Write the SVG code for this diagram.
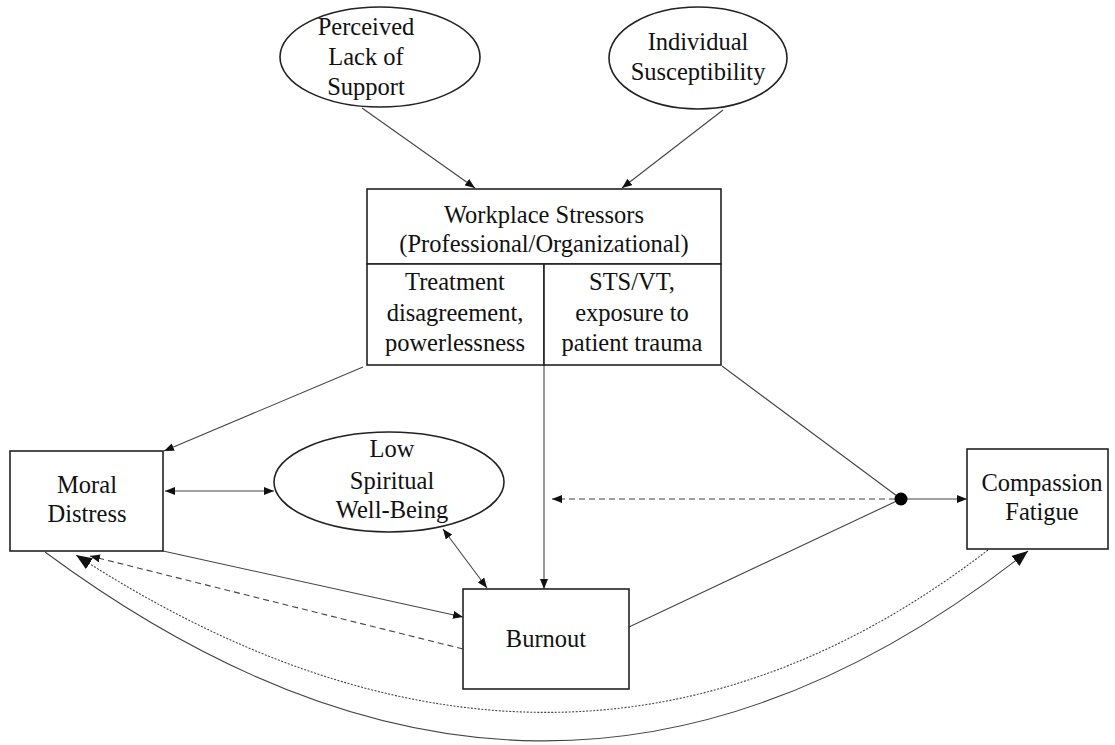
<svg xmlns="http://www.w3.org/2000/svg" width="1115" height="745" viewBox="0 0 1115 745">
<defs>
<style>
.box{fill:#fff;stroke:#222;stroke-width:1.6}
.ell{fill:#fff;stroke:#222;stroke-width:1.6}
text{font-family:"Liberation Serif","Times New Roman",serif;font-size:24.5px;fill:#111;text-anchor:middle}
.c{fill:none;stroke:#444;stroke-width:1.1}
.dash{stroke-dasharray:6,4}
.dot{stroke-dasharray:2,1.5}
</style>
<marker id="a" viewBox="0 0 10 8" refX="10" refY="4" markerWidth="10" markerHeight="8" markerUnits="userSpaceOnUse" orient="auto"><path d="M0,0 L10,4 L0,8 Z" fill="#111"/></marker>
<marker id="as" viewBox="0 0 10 8" refX="10" refY="4" markerWidth="10" markerHeight="8" markerUnits="userSpaceOnUse" orient="auto-start-reverse"><path d="M0,0 L10,4 L0,8 Z" fill="#111"/></marker>
<marker id="A" viewBox="0 0 10 8" refX="10" refY="4" markerWidth="16" markerHeight="13" markerUnits="userSpaceOnUse" orient="auto"><path d="M0,0 L10,4 L0,8 Z" fill="#111"/></marker>
</defs>
<rect width="1115" height="745" fill="#fff"/>

<g id="connectors">
<line class="c" x1="362" y1="108" x2="475" y2="188" marker-end="url(#a)"/>
<line class="c" x1="723" y1="110" x2="622" y2="188" marker-end="url(#a)"/>
<line class="c" x1="363" y1="367" x2="164" y2="451" marker-end="url(#a)"/>
<line class="c" x1="544" y1="365" x2="544" y2="589" marker-end="url(#a)"/>
<line class="c" x1="722" y1="366" x2="901" y2="499"/>
<line class="c" x1="629" y1="627" x2="901" y2="499"/>
<line class="c" x1="907" y1="499" x2="967" y2="499" marker-end="url(#a)"/>
<line class="c dash" x1="895" y1="499" x2="552" y2="499" marker-end="url(#a)"/>
<line class="c" x1="165" y1="491" x2="274" y2="491" marker-start="url(#as)" marker-end="url(#a)"/>
<line class="c" x1="443" y1="529" x2="487" y2="588" marker-start="url(#as)" marker-end="url(#a)"/>
<line class="c" x1="163" y1="551" x2="463" y2="617" marker-end="url(#a)"/>
<line class="c dash" x1="463" y1="649" x2="90" y2="556" marker-end="url(#a)"/>
<path class="c" d="M45,552 C375,796 698,812 1028,551" marker-end="url(#A)"/>
<path class="c dot" d="M988,550 C688,781 376,750 76,555" marker-end="url(#A)"/>
<circle cx="901" cy="499" r="6.5" fill="#000"/>
</g>

<g id="perceived">
<ellipse class="ell" cx="380" cy="57" rx="100" ry="50"/>
<text x="366" y="35">Perceived</text>
<text x="366" y="65">Lack of</text>
<text x="366" y="95">Support</text>
</g>

<g id="individual">
<ellipse class="ell" cx="698" cy="58" rx="89" ry="51"/>
<text x="698" y="50">Individual</text>
<text x="698" y="80">Susceptibility</text>
</g>

<g id="workplace">
<rect class="box" x="367" y="189" width="354" height="75"/>
<text x="544" y="223">Workplace Stressors</text>
<text x="544" y="252">(Professional/Organizational)</text>
</g>

<g id="treatment">
<rect class="box" x="367" y="264" width="177" height="101"/>
<text x="455" y="290">Treatment</text>
<text x="455" y="321">disagreement,</text>
<text x="455" y="351">powerlessness</text>
</g>

<g id="sts">
<rect class="box" x="544" y="264" width="177" height="101"/>
<text x="632" y="290">STS/VT,</text>
<text x="632" y="321">exposure to</text>
<text x="632" y="351">patient trauma</text>
</g>

<g id="moral">
<rect class="box" x="10" y="451" width="153" height="100"/>
<text x="87" y="493">Moral</text>
<text x="87" y="522">Distress</text>
</g>

<g id="lowspiritual">
<ellipse class="ell" cx="389" cy="482" rx="115" ry="50"/>
<text x="392" y="457">Low</text>
<text x="392" y="489">Spiritual</text>
<text x="392" y="518">Well-Being</text>
</g>

<g id="burnout">
<rect class="box" x="463" y="589" width="166" height="100"/>
<text x="546" y="647">Burnout</text>
</g>

<g id="compassion">
<rect class="box" x="967" y="449" width="141" height="100"/>
<text x="1042" y="491">Compassion</text>
<text x="1042" y="520">Fatigue</text>
</g>
</svg>
